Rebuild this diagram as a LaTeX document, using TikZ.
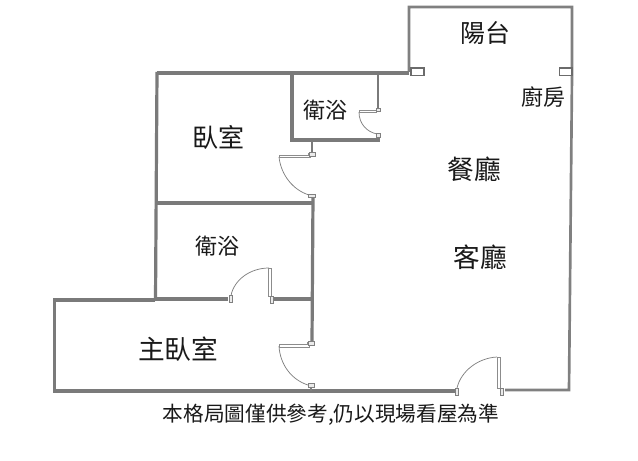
\documentclass[tikz,border=0pt]{standalone}
\usepackage{fontspec}
\setmainfont{Noto Sans CJK TC}
\tikzset{
  wall/.style={draw=black!52,line width=2.4pt,line cap=butt,line join=miter},
  thinwall/.style={draw=black!50,line width=2pt,line join=miter},
  leaf/.style={draw=black!45,fill=white,line width=0.5pt},
  jamb/.style={draw=black!50,fill=black!8,line width=0.5pt},
  swing/.style={draw=black!50,line width=0.55pt},
  win/.style={draw=black!58,fill=white,line width=1.1pt},
  lbl/.style={inner sep=0pt,text=black!90}
}
\begin{document}
\begin{tikzpicture}[x=0.75pt,y=-0.75pt]
\useasboundingbox[fill=white] (0,0) rectangle (638,460);
% walls
\draw[thinwall] (409,72) -- (409,7) -- (572,7) -- (572,76) -- (569,390) -- (505,390);
\draw[wall] (409,73) -- (157,73);
\draw[wall] (157,72) -- (155.5,300);
\draw[wall] (155,300) -- (54.5,300) -- (54.5,391) -- (455,391);
\draw[wall] (292,73) -- (292,140) -- (378,140) -- (378,136);
\draw[wall,line width=2pt] (378,73) -- (378,108);
\draw[wall,line width=2pt] (312,140) -- (312,153);
\draw[wall] (156,203) -- (313,203);
\draw[wall] (313,196) -- (312,342);
\draw[wall] (155,299) -- (228,299);
\draw[wall] (274,299) -- (312,299);
\draw[thinwall] (311,385) -- (311,391);
% windows
\draw[win] (411,68) rectangle (424,75.5);
\draw[win] (559.5,68) rectangle (572,75.5);
% bathroom door
\draw[swing] (359,112) .. controls (359,124) and (367,132) .. (377,134);
\draw[leaf] (359,110.5) rectangle (376,112);
\draw[jamb] (376,108) rectangle (380,111);
\draw[jamb] (376,133.5) rectangle (380,137);
% bedroom door
\draw[swing] (279,157) .. controls (281,175) and (293,190) .. (309,195);
\draw[leaf] (279,155.5) -- (308,155.5) -- (308,153) -- (310,153) -- (310,157) -- (279,157) -- cycle;
\draw[jamb] (309,152) rectangle (315,156);
\draw[jamb] (308.5,194.5) rectangle (315,197.5);
% en-suite door
\draw[swing] (231,295.5) .. controls (234,280) and (250,268) .. (269,268);
\draw[leaf] (268.5,268) rectangle (271.5,296);
\draw[jamb] (229.5,295.5) rectangle (232.5,302.5);
\draw[jamb] (270.5,296) rectangle (273.5,303);
% master bedroom door
\draw[swing] (279,346) .. controls (280,365) and (292,380) .. (308,385);
\draw[leaf] (279,344) -- (307,344) -- (307,342) -- (309,342) -- (309,347) -- (279,347) -- cycle;
\draw[jamb] (308,341.5) rectangle (314.5,345);
\draw[jamb] (308,383.5) rectangle (314.5,387);
% entrance door
\draw[swing] (457,388) .. controls (461,371) and (478,358) .. (497,357);
\draw[leaf] (497.5,357) rectangle (500,388);
\draw[jamb] (455.5,388.5) rectangle (458.5,395);
\draw[jamb] (500.5,388) rectangle (503.5,395);
% labels
\node[lbl,font=\fontsize{18.7pt}{20pt}\selectfont] (balcony) at (485,33) {陽台};
\node[lbl,font=\fontsize{16.5pt}{18pt}\selectfont] (kitchen) at (543,97) {廚房};
\node[lbl,font=\fontsize{16.5pt}{18pt}\selectfont] (bath1) at (325,110) {衛浴};
\node[lbl,font=\fontsize{19.5pt}{22pt}\selectfont] (bed) at (218,137) {臥室};
\node[lbl,font=\fontsize{20pt}{22pt}\selectfont] (dining) at (474,169) {餐廳};
\node[lbl,font=\fontsize{20pt}{22pt}\selectfont] (living) at (480,257) {客廳};
\node[lbl,font=\fontsize{16.5pt}{18pt}\selectfont] (bath2) at (217,246) {衛浴};
\node[lbl,font=\fontsize{20pt}{22pt}\selectfont] (master) at (178,349) {主臥室};
\node[lbl,font=\fontsize{15.5pt}{18pt}\selectfont] (note) at (331,415) {本格局圖僅供參考,仍以現場看屋為準};
\end{tikzpicture}
\end{document}
